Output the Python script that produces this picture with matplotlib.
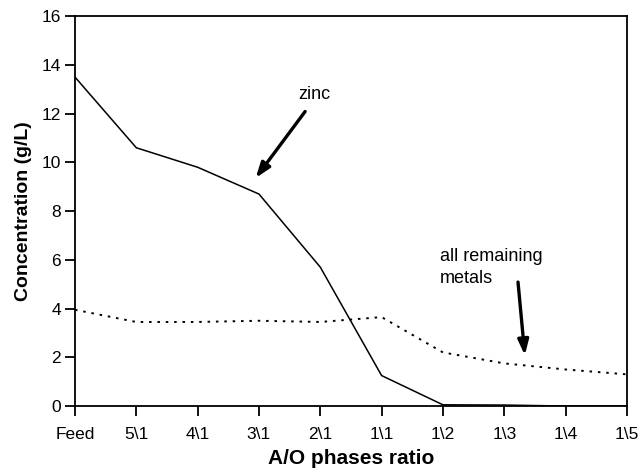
import matplotlib
matplotlib.use("Agg")
import matplotlib.pyplot as plt

plt.rcParams['font.family'] = ['Liberation Sans', 'DejaVu Sans']

ratios = ['Feed', '5\\1', '4\\1', '3\\1', '2\\1', '1\\1', '1\\2', '1\\3', '1\\4', '1\\5']
zinc = [13.5, 10.6, 9.8, 8.7, 5.7, 1.25, 0.05, 0.04, 0.0, 0.0]
remaining = [3.95, 3.45, 3.45, 3.5, 3.45, 3.65, 2.2, 1.75, 1.5, 1.3]

fig = plt.figure(figsize=(6.41, 4.76), dpi=100)
ax = fig.add_axes([0.117, 0.147, 0.861, 0.819])

x = list(range(len(ratios)))
ax.plot(x, zinc, color='black', lw=1.1)
ax.plot(x, remaining, color='black', lw=1.4, ls=(0, (1.3, 3)))

ax.set_xlim(0, len(ratios) - 1)
ax.set_ylim(0, 16)
ax.set_xticks(x)
ax.set_xticklabels(ratios)
ax.set_yticks(range(0, 17, 2))
ax.tick_params(direction='out', length=7, width=1.3, labelsize=12.5)
ax.tick_params(axis='x', pad=8)
ax.tick_params(axis='y', pad=3)
for s in ax.spines.values():
    s.set_linewidth(1.3)

ax.set_xlabel('A/O phases ratio', fontsize=15, fontweight='bold', labelpad=5)
ax.set_ylabel('Concentration (g/L)', fontsize=14, fontweight='bold', labelpad=7)

# arrows with labels
ax.annotate('', xy=(2.92, 9.27), xytext=(3.78, 12.18),
            arrowprops=dict(arrowstyle='-|>,head_length=0.9,head_width=0.32', color='black', lw=2.4))
ax.text(3.91, 12.8, 'zinc', fontsize=13, ha='center', va='center')

ax.annotate('', xy=(7.34, 1.97), xytext=(7.22, 5.2),
            arrowprops=dict(arrowstyle='-|>,head_length=0.9,head_width=0.32', color='black', lw=2.4))
ax.text(5.95, 5.68, 'all remaining\nmetals', fontsize=13, ha='left', va='center', linespacing=1.35)

fig.savefig('out.png', dpi=100)
